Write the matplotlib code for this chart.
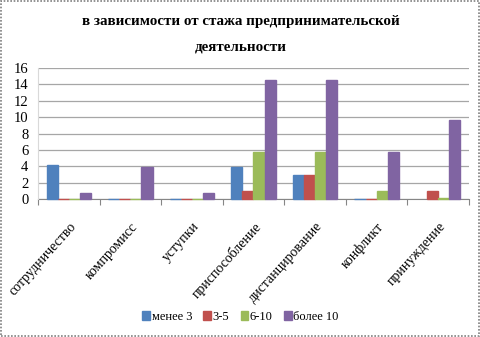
import numpy as np
import matplotlib.pyplot as plt
from matplotlib.patches import Rectangle

plt.rcParams['font.family'] = ['Liberation Serif', 'DejaVu Serif']

categories = ['сотрудничество', 'компромисс', 'уступки', 'приспособление',
              'дистанцирование', 'конфликт', 'принуждение']
series_names = ['менее 3', '3-5', '6-10', 'более 10']
less_3 = [4.2, 0, 0, 3.9, 3.0, 0, np.nan]
from_3_5 = [0, 0, 0, 1.0, 3.0, 0, 1.0]
from_6_10 = [0, 0, 0, 5.8, 5.8, 1.0, 0.2]
over_10 = [0.8, 3.9, 0.8, 14.6, 14.6, 5.8, 9.7]
colors = ['#4F81BD', '#C0504D', '#9BBB59', '#8064A2']
yticks = [0, 2, 4, 6, 8, 10, 12, 14, 16]

fig = plt.figure(figsize=(4.81, 3.37), dpi=100)
ax = fig.add_axes([0.079, 0.409, 0.896, 0.389])

x = np.arange(len(categories))
w = 0.18
for i, (vals, c, name) in enumerate(zip([less_3, from_3_5, from_6_10, over_10], colors, series_names)):
    ax.bar(x + (i - 1.5) * w, vals, w, color=c, edgecolor=c, linewidth=1.0, label=name,
           zorder=3, clip_on=False)

ax.set_xlim(-0.5, len(categories) - 0.5)
ax.set_ylim(0, 16)
ax.set_yticks(yticks)
ax.set_yticklabels([str(t) for t in yticks], fontsize=10.5)
ax.yaxis.grid(True, color='#a6a6a6', linewidth=0.9, zorder=0)
ax.tick_params(axis='y', length=0, pad=7)

# category boundaries as ticks, labels centred on groups
ax.set_xticks(np.arange(-0.5, len(categories)), minor=False)
ax.set_xticklabels([])
ax.set_xticks(x, minor=True)
ax.set_xticklabels(categories, minor=True, rotation=48, ha='right', rotation_mode='anchor', fontsize=10)
ax.tick_params(axis='x', which='minor', length=0, pad=15)
ax.tick_params(axis='x', which='major', length=4, color='#868686', direction='out')

for s in ['top', 'right']:
    ax.spines[s].set_visible(False)
ax.spines['bottom'].set_color('#868686')
ax.spines['bottom'].set_zorder(2)
ax.spines['left'].set_color('#d9d9d9')

fig.text(0.5, 0.935, 'в зависимости от стажа предпринимательской', ha='center', va='center',
         fontsize=10.8, fontweight='bold')
fig.text(0.5, 0.862, 'деятельности', ha='center', va='center', fontsize=10.8, fontweight='bold')

fig.legend(loc='center', bbox_to_anchor=(0.5, 0.06), ncol=4, frameon=False, fontsize=9,
           handlelength=0.6, handleheight=0.7, handletextpad=0.15, columnspacing=0.9)

fig.patches.append(Rectangle((0.002, 0.003), 0.994, 0.993, transform=fig.transFigure, fill=False,
                             edgecolor='#808080', linestyle=(0, (1, 1)), linewidth=1.2))

fig.savefig('out.png', dpi=100)
